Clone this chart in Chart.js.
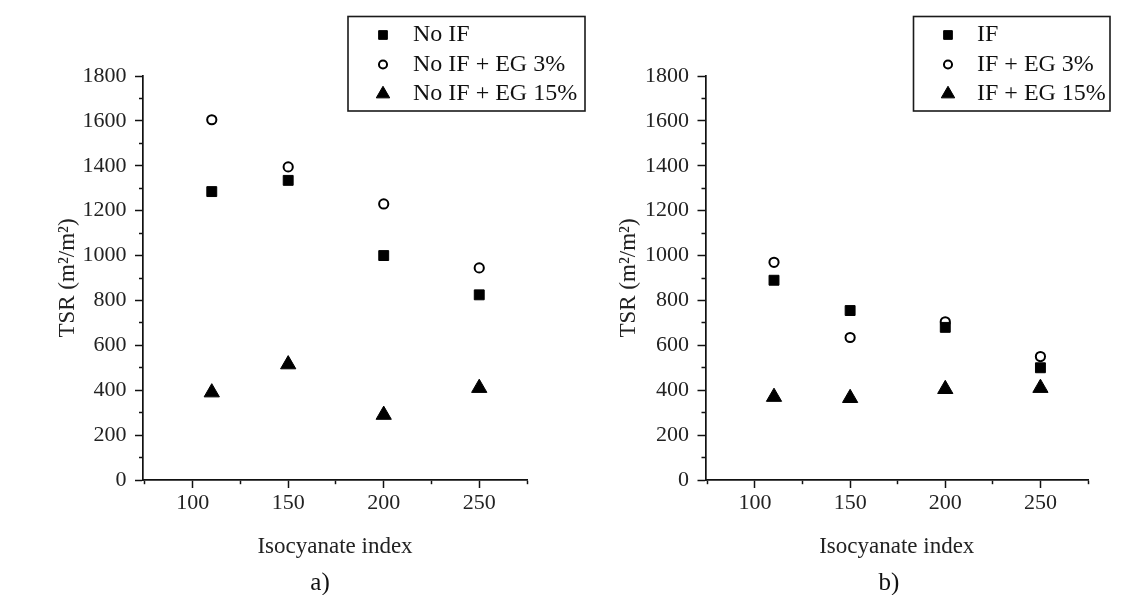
<!DOCTYPE html>
<html lang="en">
<head>
  <meta charset="UTF-8" />
  <title>TSR vs isocyanate index</title>
  <script src="https://cdn.jsdelivr.net/npm/chart.js"></script>
  <style>
    html, body { margin: 0; padding: 0; background: #fff; }
    .wrap { position: relative; width: 1138px; height: 595px; overflow: hidden; background: #fff; }
    canvas { position: absolute; top: 0; }
    #chart-a { left: 0; }
    #chart-b { left: 590px; }
  </style>
</head>
<body>
<div class="wrap">
  <canvas id="chart-a" width="600" height="595"></canvas>
  <canvas id="chart-b" width="548" height="595"></canvas>
</div>
<script>
  // isocyanate index of the samples
  const isoIndex = [110, 150, 200, 250];

  // panel a) - without IF
  const labelsA = ['No IF', 'No IF + EG 3%', 'No IF + EG 15%'];
  const noIF = [1285, 1335, 1000, 825];
  const noIF_EG3 = [1605, 1395, 1230, 945];
  const noIF_EG15 = [390, 515, 290, 410];

  // panel b) - with IF
  const labelsB = ['IF', 'IF + EG 3%', 'IF + EG 15%'];
  const withIF = [890, 755, 680, 500];
  const IF_EG3 = [970, 635, 705, 550];
  const IF_EG15 = [370, 365, 405, 410];

  // labelled ticks (the others are minor ticks)
  const xTickLabels = [100, 150, 200, 250];
  const yTickLabels = [0, 200, 400, 600, 800, 1000, 1200, 1400, 1600, 1800];

  const SERIF = '"Liberation Serif", "Times New Roman", serif';
  Chart.defaults.font.family = SERIF;
  Chart.defaults.color = '#222';

  const markers = [
    { pointStyle: 'rect', pointRadius: 7, backgroundColor: '#000', borderColor: '#000', borderWidth: 1 },
    { pointStyle: 'circle', pointRadius: 4.6, backgroundColor: '#fff', borderColor: '#000', borderWidth: 2 },
    { pointStyle: 'triangle', pointRadius: 8.8, backgroundColor: '#000', borderColor: '#000', borderWidth: 1 }
  ];

  // boxed legend + panel letter, drawn on top of the chart
  const boxLegend = {
    id: 'boxLegend',
    afterDraw(chart, args, opts) {
      const ctx = chart.ctx;
      ctx.save();
      ctx.lineWidth = 1.6;
      ctx.strokeStyle = '#1a1a1a';
      ctx.strokeRect(opts.x, opts.y, opts.w, opts.h);
      ctx.font = '24px ' + SERIF;
      ctx.textBaseline = 'middle';
      chart.data.datasets.forEach((ds, i) => {
        const cy = opts.y + opts.rowTop + i * opts.rowGap;
        ctx.fillStyle = ds.backgroundColor;
        ctx.strokeStyle = ds.borderColor;
        ctx.lineWidth = ds.borderWidth;
        Chart.helpers.drawPoint(ctx, {
          pointStyle: ds.pointStyle, rotation: 0,
          radius: ds.pointRadius * 0.88, borderWidth: ds.borderWidth
        }, opts.markerX, cy);
        ctx.fillStyle = '#111';
        ctx.fillText(ds.label, opts.textX, cy);
      });
      ctx.font = '25px ' + SERIF;
      ctx.textAlign = 'center';
      ctx.fillStyle = '#111';
      ctx.fillText(opts.panel, opts.panelX, opts.panelY);
      ctx.restore();
    }
  };

  function makeChart(id, labels, series, lay) {
    const datasets = series.map((vals, i) => Object.assign({
      label: labels[i],
      data: vals.map((v, j) => ({ x: isoIndex[j], y: v })),
      pointHoverRadius: markers[i].pointRadius
    }, markers[i]));

    return new Chart(document.getElementById(id), {
      type: 'scatter',
      data: { datasets },
      plugins: [boxLegend],
      options: {
        responsive: false,
        animation: false,
        layout: { padding: { left: lay.padLeft, right: lay.padRight, top: 76, bottom: 0 } },
        plugins: {
          legend: { display: false },
          tooltip: { enabled: false },
          boxLegend: lay.legend
        },
        scales: {
          x: {
            type: 'linear',
            min: 74,
            max: 275,
            border: { color: '#111', width: 1.7 },
            grid: {
              drawOnChartArea: false,
              tickLength: 8,
              tickColor: '#111',
              tickWidth: 1.5,
              tickBorderDash: c => (c.tick && !xTickLabels.includes(c.tick.value)) ? [3.5, 30] : []
            },
            ticks: {
              stepSize: 25,
              includeBounds: false,
              autoSkip: false,
              maxRotation: 0,
              padding: 2,
              color: '#222',
              font: { size: 22 },
              callback: v => xTickLabels.includes(v) ? v : ''
            },
            title: {
              display: true,
              text: 'Isocyanate index',
              color: '#222',
              font: { size: 23 },
              padding: { top: 0, bottom: 34 }
            },
            afterFit: s => { s.height = 115; }
          },
          y: {
            min: 0,
            max: 1800,
            border: { color: '#111', width: 1.7 },
            grid: {
              drawOnChartArea: false,
              tickLength: 8,
              tickColor: '#111',
              tickWidth: 1.5,
              tickBorderDash: c => (c.tick && !yTickLabels.includes(c.tick.value)) ? [0, 4, 4, 30] : []
            },
            ticks: {
              stepSize: 100,
              autoSkip: false,
              padding: 8.5,
              color: '#222',
              font: { size: 22 },
              callback: v => yTickLabels.includes(v) ? v : ''
            },
            title: {
              display: true,
              text: 'TSR (m²/m²)',
              color: '#222',
              font: { size: 23 },
              padding: { top: 4, bottom: 0 }
            },
            afterFit: s => { s.width = lay.yWidth; }
          }
        }
      }
    });
  }

  makeChart('chart-a', labelsA, [noIF, noIF_EG3, noIF_EG15], {
    padLeft: 50, padRight: 73, yWidth: 93,
    legend: { x: 348, y: 16.5, w: 237, h: 94.5, rowTop: 18.5, rowGap: 29.5, markerX: 383, textX: 413,
              panel: 'a)', panelX: 320, panelY: 583 }
  });

  makeChart('chart-b', labelsB, [withIF, IF_EG3, IF_EG15], {
    padLeft: 21, padRight: 50, yWidth: 94.5,
    legend: { x: 323.5, y: 16.5, w: 196.5, h: 94.5, rowTop: 18.5, rowGap: 29.5, markerX: 358, textX: 387,
              panel: 'b)', panelX: 299, panelY: 583 }
  });
</script>
</body>
</html>
